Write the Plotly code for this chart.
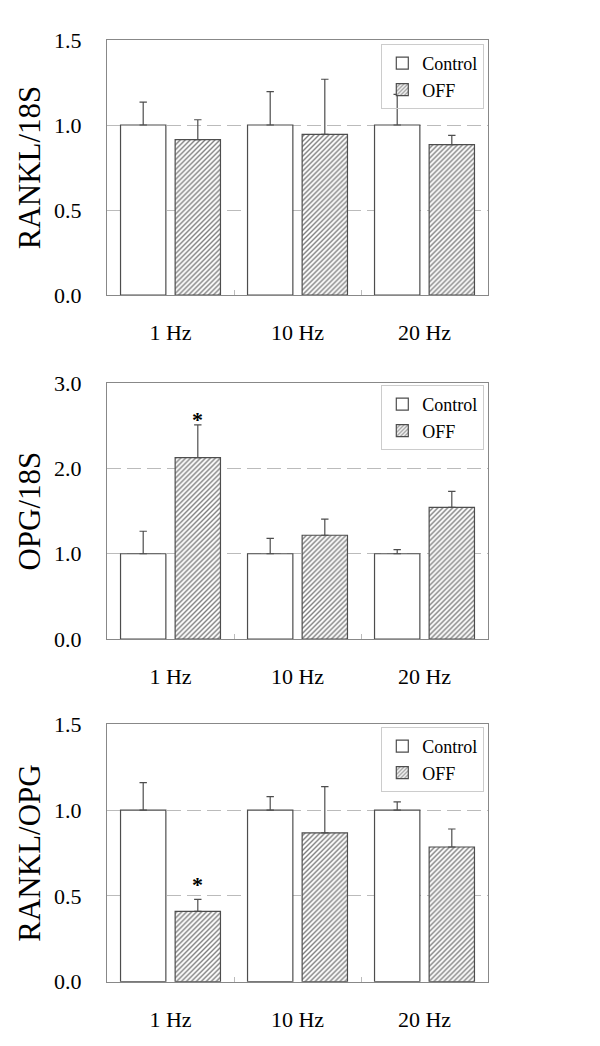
import plotly.graph_objects as go

freqs = ["1 Hz", "10 Hz", "20 Hz"]

rankl_ctrl = [1.0, 1.0, 1.0]
rankl_ctrl_err = [0.135, 0.196, 0.18]
rankl_off = [0.914, 0.945, 0.884]
rankl_off_err = [0.117, 0.324, 0.055]

opg_ctrl = [1.0, 1.0, 1.0]
opg_ctrl_err = [0.264, 0.18, 0.048]
opg_off = [2.128, 1.217, 1.545]
opg_off_err = [0.384, 0.19, 0.188]

ratio_ctrl = [1.0, 1.0, 1.0]
ratio_ctrl_err = [0.16, 0.078, 0.048]
ratio_off = [0.41, 0.867, 0.785]
ratio_off_err = [0.07, 0.27, 0.105]

panel_titles = ["RANKL/18S", "OPG/18S", "RANKL/OPG"]
panel_ranges = [[0, 1.5], [0, 3.0], [0, 1.5]]
panel_dticks = [0.5, 1.0, 0.5]
star_panels = {1: 2.63, 2: 0.593}  # panel index -> y of significance mark

FONT = "Liberation Serif, Times New Roman, serif"
EDGE = "#4d4d4d"

panels = [
    (rankl_ctrl, rankl_ctrl_err, rankl_off, rankl_off_err),
    (opg_ctrl, opg_ctrl_err, opg_off, opg_off_err),
    (ratio_ctrl, ratio_ctrl_err, ratio_off, ratio_off_err),
]

# page body adds an 8px offset, so the figure is 8px smaller
W, H = 592, 1038
ml, mr, mt, mb = 99, 112, 32, 64
ph = H - mt - mb
ybot = H - mb
panel_px = [(32, 287), (375.3, 631), (716.3, 973.7)]
domains = [[max(0, (ybot - b) / ph), min(1, (ybot - t) / ph)] for t, b in panel_px]
legend_tops = [36, 377, 719]

fig = go.Figure()
legend_names = ["legend", "legend2", "legend3"]
for i, (c, ce, o, oe) in enumerate(panels):
    ax = "" if i == 0 else str(i + 1)
    fig.add_trace(go.Bar(
        x=freqs, y=c, name="Control",
        xaxis="x" + ax, yaxis="y" + ax, legend=legend_names[i],
        marker=dict(color="white", line=dict(color=EDGE, width=1.2)),
        error_y=dict(type="data", symmetric=False, array=ce,
                     arrayminus=[0] * len(ce), color=EDGE, thickness=1.2, width=3.7),
    ))
    fig.add_trace(go.Bar(
        x=freqs, y=o, name="OFF",
        xaxis="x" + ax, yaxis="y" + ax, legend=legend_names[i],
        marker=dict(color="white", line=dict(color=EDGE, width=1.2),
                    pattern=dict(shape="/", size=3.5, solidity=0.4,
                                 fgcolor="#000000", bgcolor="white")),
        error_y=dict(type="data", symmetric=False, array=oe,
                     arrayminus=[0] * len(oe), color=EDGE, thickness=1.2, width=3.7),
    ))

layout = dict(
    width=W, height=H,
    margin=dict(l=ml, r=mr, t=mt, b=mb),
    paper_bgcolor="white", plot_bgcolor="white",
    barmode="group", bargap=0.14, bargroupgap=0.17,
    font=dict(family=FONT, size=22, color="black"),
    showlegend=True,
)

for i in range(3):
    ax = "" if i == 0 else str(i + 1)
    layout["xaxis" + ax] = dict(
        domain=[0, 1], anchor="y" + ax,
        showline=True, linecolor="#888888", linewidth=1, mirror=True,
        ticks="inside", tickson="boundaries", ticklen=5, tickcolor="#bbbbbb",
        ticklabelstandoff=18,
        tickfont=dict(family=FONT, size=22, color="black"),
        showgrid=False, zeroline=False, automargin=False,
    )
    layout["yaxis" + ax] = dict(
        domain=domains[i], anchor="x" + ax,
        range=panel_ranges[i], dtick=panel_dticks[i], tick0=0, tickformat=".1f",
        showline=True, linecolor="#888888", linewidth=1, mirror=True,
        ticks="", ticklabelstandoff=20,
        tickfont=dict(family=FONT, size=22, color="black"),
        showgrid=True, gridcolor="#bbbbbb", gridwidth=1, griddash="14px,6px",
        zeroline=False, automargin=False,
        title=dict(text=panel_titles[i], font=dict(family=FONT, size=31, color="black"),
                   standoff=4),
    )
    layout[legend_names[i]] = dict(
        x=(476.3 - ml) / (W - ml - mr), xanchor="right",
        y=(ybot - legend_tops[i]) / ph, yanchor="top",
        bgcolor="rgba(255,255,255,0)", bordercolor="#cccccc", borderwidth=1,
        font=dict(family=FONT, size=18, color="black"),
        tracegroupgap=0,
    )

fig.update_layout(**layout)

annotations = []
for i, ystar in star_panels.items():
    ax = "" if i == 0 else str(i + 1)
    annotations.append(dict(
        x=freqs[0], y=ystar, xref="x" + ax, yref="y" + ax,
        text="<b>*</b>", showarrow=False, xshift=27, yshift=-5,
        font=dict(family=FONT, size=22, color="black"),
    ))
fig.update_layout(annotations=annotations)

fig.write_html("out.html")
